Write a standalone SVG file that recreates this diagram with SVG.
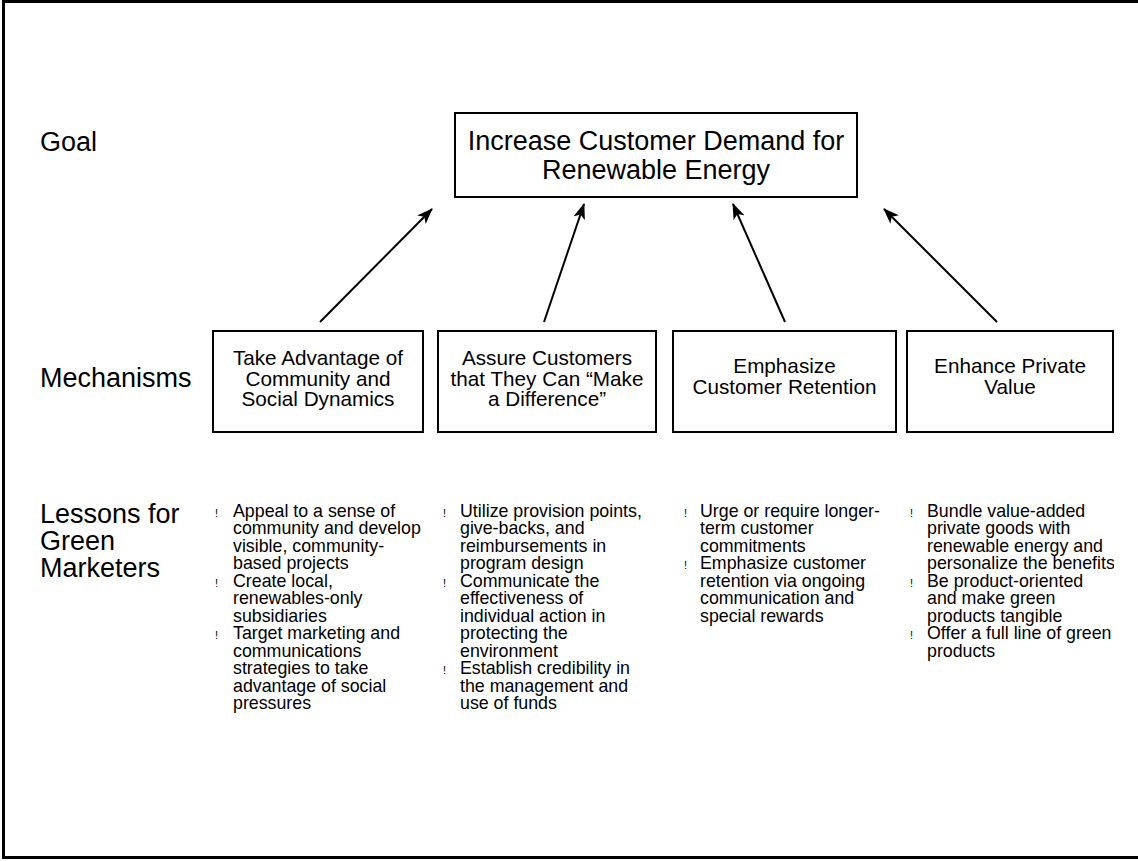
<svg xmlns="http://www.w3.org/2000/svg" width="1138" height="861" viewBox="0 0 1138 861">
<style>
text{font-family:"Liberation Sans",Arial,sans-serif;fill:#000}
.lbl{font-size:27px}
.goal{font-size:27px;text-anchor:middle}
.mech{font-size:20.7px;text-anchor:middle}
.les{font-size:17.8px}
.bul{font-size:11px}
.box{fill:#fff;stroke:#000;stroke-width:2}
.arr{stroke:#000;stroke-width:2;fill:none;marker-end:url(#ah)}
</style>
<defs>
<marker id="ah" viewBox="0 0 16 12" refX="15" refY="6" markerWidth="16" markerHeight="12" markerUnits="userSpaceOnUse" orient="auto">
<path d="M0,0 L16,6 L0,12 L4,6 Z" fill="#000"/>
</marker>
<clipPath id="c4"><rect x="900" y="480" width="214" height="220"/></clipPath>
</defs>
<rect width="1138" height="861" fill="#fff"/>
<path d="M1140,1.5 H3.5 V857.5 H1140" fill="none" stroke="#000" stroke-width="3"/>

<g id="labels">
<text class="lbl" x="40" y="151">Goal</text>
<text class="lbl" x="40" y="387">Mechanisms</text>
<text class="lbl" x="40" y="523">Lessons for</text>
<text class="lbl" x="40" y="550">Green</text>
<text class="lbl" x="40" y="577">Marketers</text>
</g>

<g id="goal">
<rect class="box" x="455" y="113" width="402" height="84"/>
<text class="goal" x="656" y="150">Increase Customer Demand for</text>
<text class="goal" x="656" y="179">Renewable Energy</text>
</g>

<g id="mech1">
<rect class="box" x="213" y="331" width="210" height="101"/>
<text class="mech" x="318" y="365">Take Advantage of</text>
<text class="mech" x="318" y="385.5">Community and</text>
<text class="mech" x="318" y="406">Social Dynamics</text>
</g>
<g id="mech2">
<rect class="box" x="438" y="331" width="218" height="101"/>
<text class="mech" x="547" y="365">Assure Customers</text>
<text class="mech" x="547" y="385.5">that They Can “Make</text>
<text class="mech" x="547" y="406">a Difference”</text>
</g>
<g id="mech3">
<rect class="box" x="673" y="331" width="223" height="101"/>
<text class="mech" x="784.5" y="373">Emphasize</text>
<text class="mech" x="784.5" y="394">Customer Retention</text>
</g>
<g id="mech4">
<rect class="box" x="907" y="331" width="206" height="101"/>
<text class="mech" x="1010" y="373">Enhance Private</text>
<text class="mech" x="1010" y="394">Value</text>
</g>

<g id="connectors">
<line class="arr" x1="320" y1="322" x2="432" y2="209"/>
<line class="arr" x1="544" y1="322" x2="584" y2="204"/>
<line class="arr" x1="785" y1="322" x2="733" y2="204"/>
<line class="arr" x1="997" y1="322" x2="884" y2="209"/>
</g>

<g id="lessons1">
<text class="bul" x="215" y="516.5">!</text>
<text class="bul" x="215" y="586.5">!</text>
<text class="bul" x="215" y="639">!</text>
<text class="les" x="233" y="516.5">Appeal to a sense of</text>
<text class="les" x="233" y="534">community and develop</text>
<text class="les" x="233" y="551.5">visible, community-</text>
<text class="les" x="233" y="569">based projects</text>
<text class="les" x="233" y="586.5">Create local,</text>
<text class="les" x="233" y="604">renewables-only</text>
<text class="les" x="233" y="621.5">subsidiaries</text>
<text class="les" x="233" y="639">Target marketing and</text>
<text class="les" x="233" y="656.5">communications</text>
<text class="les" x="233" y="674">strategies to take</text>
<text class="les" x="233" y="691.5">advantage of social</text>
<text class="les" x="233" y="709">pressures</text>
</g>

<g id="lessons2">
<text class="bul" x="443" y="516.5">!</text>
<text class="bul" x="443" y="586.5">!</text>
<text class="bul" x="443" y="674">!</text>
<text class="les" x="460" y="516.5">Utilize provision points,</text>
<text class="les" x="460" y="534">give-backs, and</text>
<text class="les" x="460" y="551.5">reimbursements in</text>
<text class="les" x="460" y="569">program design</text>
<text class="les" x="460" y="586.5">Communicate the</text>
<text class="les" x="460" y="604">effectiveness of</text>
<text class="les" x="460" y="621.5">individual action in</text>
<text class="les" x="460" y="639">protecting the</text>
<text class="les" x="460" y="656.5">environment</text>
<text class="les" x="460" y="674">Establish credibility in</text>
<text class="les" x="460" y="691.5">the management and</text>
<text class="les" x="460" y="709">use of funds</text>
</g>

<g id="lessons3">
<text class="bul" x="684" y="516.5">!</text>
<text class="bul" x="684" y="569">!</text>
<text class="les" x="700" y="516.5">Urge or require longer-</text>
<text class="les" x="700" y="534">term customer</text>
<text class="les" x="700" y="551.5">commitments</text>
<text class="les" x="700" y="569">Emphasize customer</text>
<text class="les" x="700" y="586.5">retention via ongoing</text>
<text class="les" x="700" y="604">communication and</text>
<text class="les" x="700" y="621.5">special rewards</text>
</g>

<g id="lessons4" clip-path="url(#c4)">
<text class="bul" x="910" y="516.5">!</text>
<text class="bul" x="910" y="586.5">!</text>
<text class="bul" x="910" y="639">!</text>
<text class="les" x="927" y="516.5">Bundle value-added</text>
<text class="les" x="927" y="534">private goods with</text>
<text class="les" x="927" y="551.5">renewable energy and</text>
<text class="les" x="927" y="569">personalize the benefits</text>
<text class="les" x="927" y="586.5">Be product-oriented</text>
<text class="les" x="927" y="604">and make green</text>
<text class="les" x="927" y="621.5">products tangible</text>
<text class="les" x="927" y="639">Offer a full line of green</text>
<text class="les" x="927" y="656.5">products</text>
</g>
</svg>
